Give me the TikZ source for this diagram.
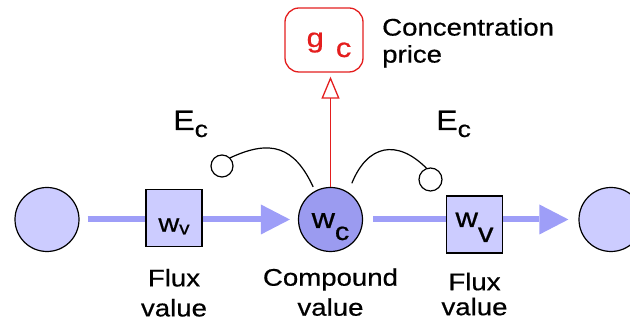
\documentclass[tikz,border=0pt]{standalone}
\usepackage{fontspec}
\setmainfont[FakeStretch=1.15, FakeBold=0.6]{Liberation Sans}
\usetikzlibrary{arrows.meta, positioning}
\definecolor{poolfill}{HTML}{CCCCFF}
\definecolor{compfill}{HTML}{9B9BF0}
\definecolor{flowblue}{HTML}{9E9EF8}
\definecolor{pricered}{HTML}{E41E1E}

\begin{document}
\begin{tikzpicture}[
    x=1pt, y=1pt,
    every node/.style={font=\fontsize{24}{30}\selectfont, inner sep=0pt},
    pool/.style={draw, circle, fill=poolfill, line width=1.2pt, minimum size=64pt},
    comp/.style={draw, circle, fill=compfill, line width=1.2pt, minimum size=64pt},
    flux/.style={draw, rectangle, fill=poolfill, line width=1.2pt, minimum width=56pt, minimum height=57pt},
    knob/.style={draw, circle, fill=white, line width=1.2pt, minimum size=22pt},
    price/.style={draw=pricered, text=pricered, rounded corners=14pt, line width=1.3pt, minimum width=78pt, minimum height=64pt},
    flow/.style={draw=flowblue, line width=6pt},
    flowarrow/.style={flow, -{Triangle[length=29pt, width=30pt, line width=0pt]}},
    pricelink/.style={draw=pricered, line width=1.3pt, -{Triangle[open, length=22pt, width=18pt]}},
    effect/.style={line width=1.2pt},
    lab/.style={align=center}
]
\useasboundingbox (0,0) rectangle (630,320);

% Pools and fluxes
\node[pool] (s1) at (47,100.5) {};
\node[flux, font=\fontsize{25}{25}\selectfont, text height=28pt, text depth=0pt] (v1) at (174,102.3)
    {w\raisebox{-2.6pt}{\fontsize{18}{18}\selectfont v}};
\node[comp, font=\fontsize{28}{28}\selectfont, text height=17pt, text depth=0pt] (wc) at (330.5,100.5)
    {w\raisebox{-12pt}{\fontsize{25}{25}\selectfont c}};
\node[flux, font=\fontsize{27}{27}\selectfont, text height=5pt, text depth=0pt] (v2) at (474.5,95.5)
    {w\raisebox{-15pt}{v}};
\node[pool] (s2) at (611,100.5) {};

% Labels below
\node[lab, below=22pt of v1] (v1lab) {Flux\\value};
\node[lab, below=16pt of wc] (wclab) {Compound\\value};
\node[lab, below=19pt of v2, font=\fontsize{24}{25}\selectfont] (v2lab) {Flux\\value};

% Flow lines
\draw[flow, shorten <=8pt] (s1.east) -- (s1.east -| v1.west);
\draw[flowarrow, shorten >=8pt] (v1.east |- wc.west) -- (wc.west);
\draw[flow, shorten <=10pt] (wc.east) -- (wc.east -| v2.west);
\draw[flowarrow, shorten >=10pt] (v2.east |- s2.west) -- (s2.west);

% Concentration price
\node[price, font=\fontsize{27}{27}\selectfont, text height=34pt, text depth=0pt] (gc) at (324,280)
    {\hspace*{10pt}\raisebox{10pt}{g}\hspace{12pt}c};
\node[anchor=north west, align=left, font=\fontsize{24}{27}\selectfont] (gclab) at (382,302) {Concentration\\price};
\draw[pricelink, shorten >=4pt] (wc.north) -- (wc.north |- gc.south);

% Elasticities
\node[knob] (e1) at (222,154) {};
\node[knob, minimum size=23pt] (e2) at (430.5,140.5) {};
\coordinate (lend) at ([shift={(118:37pt)}]wc.center);
\coordinate (rstart) at ([shift={(59.5:42pt)}]wc.center);
\draw[effect] (e1.45) to[out=25, in=115, looseness=1.3] (lend);
\draw[effect] (rstart) to[out=68, in=135, looseness=1.4] (e2.110);
\node[anchor=base west] (elab1) at (173,190) {\fontsize{28}{28}\selectfont E\raisebox{-7pt}{\fontsize{23}{23}\selectfont c}};
\node[anchor=base west] (elab2) at (436,190) {\fontsize{28}{28}\selectfont E\raisebox{-7pt}{\fontsize{23}{23}\selectfont c}};
\end{tikzpicture}
\end{document}
